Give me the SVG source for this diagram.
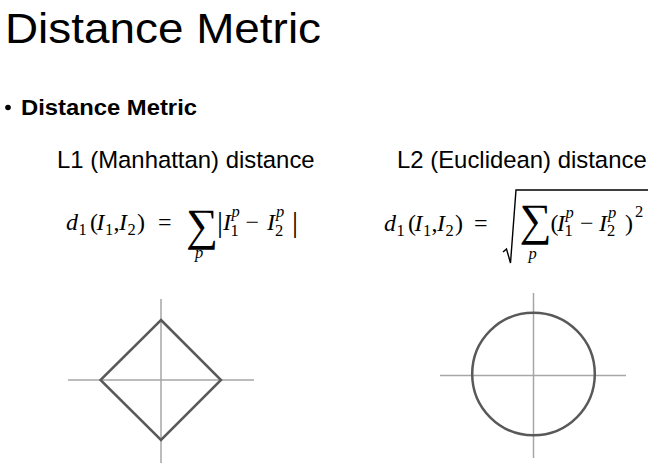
<svg xmlns="http://www.w3.org/2000/svg" width="657" height="470" viewBox="0 0 657 470">
<style>
.title{font-family:"Liberation Sans",Arial,sans-serif;font-size:43px;fill:#000}
.bul{font-family:"Liberation Sans",Arial,sans-serif;font-size:22px;font-weight:bold;fill:#000}
.lab{font-family:"Liberation Sans",Arial,sans-serif;font-size:23.9px;fill:#000}
.m{font-family:"Liberation Serif","Times New Roman",serif;font-size:24px;fill:#000}
.mi{font-family:"Liberation Serif","Times New Roman",serif;font-size:24px;font-style:italic;fill:#000}
.s{font-family:"Liberation Serif","Times New Roman",serif;font-size:16.5px;fill:#000}
.si{font-family:"Liberation Serif","Times New Roman",serif;font-size:16.5px;font-style:italic;fill:#000}
.sig{font-family:"Liberation Serif","Times New Roman",serif;font-size:45px;fill:#000}
.bar{font-family:"Liberation Serif","Times New Roman",serif;font-size:30px;fill:#000}
.axis{stroke:#a6a6a6;stroke-width:1.5;fill:none}
.shape{stroke:#595959;stroke-width:2.5;fill:none}
</style>
<rect width="657" height="470" fill="#fff"/>
<g id="title">
<text class="title" x="5" y="43" textLength="316" lengthAdjust="spacingAndGlyphs">Distance Metric</text>
</g>
<g id="bullet">
<circle cx="8" cy="107.5" r="2.8" fill="#000"/>
<text class="bul" x="21" y="115" textLength="176" lengthAdjust="spacingAndGlyphs">Distance Metric</text>
</g>
<g id="l1-label">
<text class="lab" x="57" y="168">L1 (Manhattan) distance</text>
</g>
<g id="l2-label">
<text class="lab" x="397" y="168">L2 (Euclidean) distance</text>
</g>
<g id="l1-formula">
<text class="mi" x="66" y="230">d</text>
<text class="s" x="78.5" y="235">1</text>
<text class="m" x="90" y="230">(</text>
<text class="mi" x="96.5" y="230">I</text>
<text class="s" x="105" y="235">1</text>
<text class="m" x="113.5" y="230">,</text>
<text class="mi" x="119" y="230">I</text>
<text class="s" x="127.5" y="235">2</text>
<text class="m" x="137" y="230">)</text>
<text class="m" x="158" y="230">=</text>
<text class="sig" x="186" y="240">∑</text>
<text class="si" x="195" y="258">p</text>
<text class="bar" x="217" y="232">|</text>
<text class="mi" x="223" y="230">I</text>
<text class="si" x="231.5" y="216.5">p</text>
<text class="s" x="230.5" y="235.5">1</text>
<text class="m" x="245.5" y="230">−</text>
<text class="mi" x="267" y="230">I</text>
<text class="si" x="276" y="216.5">p</text>
<text class="s" x="275" y="235.5">2</text>
<text class="bar" x="292" y="232">|</text>
</g>
<g id="l2-formula">
<text class="mi" x="384" y="230.5">d</text>
<text class="s" x="396.5" y="235.5">1</text>
<text class="m" x="408" y="230.5">(</text>
<text class="mi" x="414.5" y="230.5">I</text>
<text class="s" x="423" y="235.5">1</text>
<text class="m" x="431.5" y="230.5">,</text>
<text class="mi" x="437" y="230.5">I</text>
<text class="s" x="445.5" y="235.5">2</text>
<text class="m" x="455" y="230.5">)</text>
<text class="m" x="474" y="230.5">=</text>
<path d="M503,252 L506.5,249 L510.5,263 L516,190 H648" fill="none" stroke="#000" stroke-width="1.4" stroke-linejoin="miter"/>
<text class="sig" x="519.5" y="235">∑</text>
<text class="si" x="528.5" y="258.5">p</text>
<text class="m" x="550.5" y="230.5">(</text>
<text class="mi" x="557" y="230.5">I</text>
<text class="si" x="565.5" y="217.5">p</text>
<text class="s" x="564.5" y="236">1</text>
<text class="m" x="580" y="230.5">−</text>
<text class="mi" x="599" y="230.5">I</text>
<text class="si" x="608" y="217.5">p</text>
<text class="s" x="607" y="236">2</text>
<text class="m" x="625" y="230.5">)</text>
<text class="s" x="635" y="217">2</text>
</g>
<g id="l1-plot">
<line class="axis" x1="68" y1="380" x2="254" y2="380"/>
<line class="axis" x1="161" y1="299" x2="161" y2="463"/>
<polygon class="shape" points="161,320 221,380 161,440 100.5,380"/>
</g>
<g id="l2-plot">
<line class="axis" x1="440" y1="375.5" x2="626" y2="375.5"/>
<line class="axis" x1="533.5" y1="293" x2="533.5" y2="458"/>
<circle class="shape" cx="533.5" cy="374" r="61.3"/>
</g>
</svg>
